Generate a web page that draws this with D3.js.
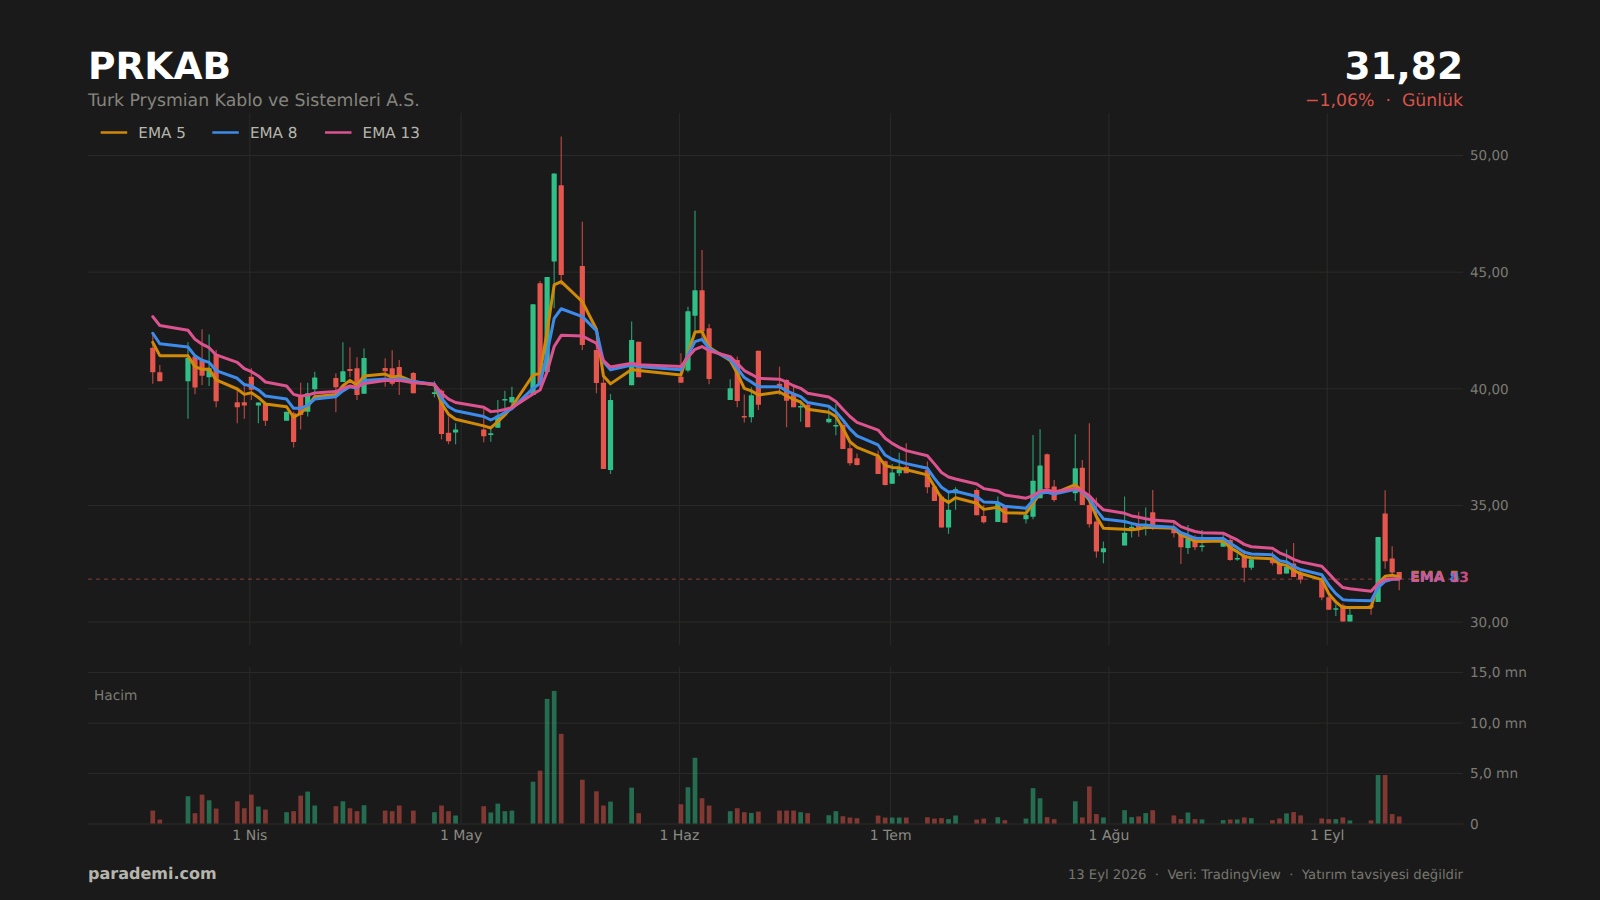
<!DOCTYPE html>
<html lang="tr"><head><meta charset="utf-8"><title>PRKAB</title>
<script src="https://cdn.jsdelivr.net/npm/d3@7"></script>
<style>
html,body{margin:0;padding:0;background:#1a1a1a;overflow:hidden}
svg{display:block}
text{font-family:"DejaVu Sans",sans-serif;text-rendering:geometricPrecision}
</style></head><body><svg id="c" width="1600" height="900"></svg>
<script>
const dates=["03-18","03-19","03-23","03-24","03-25","03-26","03-27","03-30","03-31","04-01","04-02","04-03","04-06","04-07","04-08","04-09","04-10","04-13","04-14","04-15","04-16","04-17","04-20","04-21","04-22","04-24","04-27","04-28","04-29","04-30","05-04","05-05","05-06","05-07","05-08","05-11","05-12","05-13","05-14","05-15","05-18","05-20","05-21","05-22","05-25","05-26","06-01","06-02","06-03","06-04","06-05","06-08","06-09","06-10","06-11","06-12","06-15","06-16","06-17","06-18","06-19","06-22","06-23","06-24","06-25","06-26","06-29","06-30","07-01","07-02","07-03","07-06","07-07","07-08","07-09","07-10","07-13","07-14","07-16","07-17","07-20","07-21","07-22","07-23","07-24","07-27","07-28","07-29","07-30","07-31","08-03","08-04","08-05","08-06","08-07","08-10","08-11","08-12","08-13","08-14","08-17","08-18","08-19","08-20","08-21","08-24","08-25","08-26","08-27","08-28","08-31","09-01","09-02","09-03","09-04","09-07","09-08","09-09","09-10","09-11"];
const opens=[41.74,40.69,40.3,41.36,41.21,40.47,41.47,39.4,39.4,40.49,39.26,39.36,38.61,38.93,39.66,39,39.96,40.44,40.27,40.83,40.86,39.77,40.87,40.86,40.91,40.66,39.76,39.9,38.1,38.11,38.23,38,38.31,39.49,39.39,39.71,44.5,40.7,45.44,48.7,45.24,41.64,40.24,36.5,40.13,41.99,40.49,40.76,43.11,44.2,42.57,39.5,41.21,38.81,38.76,41.61,40.2,40.36,39.79,39.19,39.29,38.54,38.36,38.43,37.43,37,37.07,36.87,35.91,36.36,36.64,36.5,35.79,35.36,34.03,35.5,35.64,34.53,34.27,34.93,34.39,34.49,35.29,37.17,35.79,35.5,36.59,35,34.29,32.97,33.26,34.03,34.14,34.04,34.69,34.07,33.76,33.16,33.57,33.2,33.21,33.5,32.67,32.86,32.31,32.69,32.5,32.06,32.49,32.06,31.77,31.04,30.51,30.7,30,30.7,30.84,34.63,32.7,32.13];
const highs=[42.29,41,41.97,41.43,42.53,42.31,41.64,39.93,40.1,40.86,39.4,39.43,39,39,40.24,40.24,40.71,40.64,41.97,41.76,41.33,41.71,41.29,41.63,41.21,40.7,40.31,39.95,38.79,38.5,39.14,38.36,39.5,39.9,40.07,43.6,44.6,44.77,49.21,50.79,47.14,42.57,40.5,39.76,42.86,41.99,41.5,43.5,47.61,45.93,42.76,40.39,41.36,39.73,40.04,41.61,40.93,40.39,40.07,39.5,39.4,39.14,39.33,38.5,37.79,37.21,37.33,36.9,36.76,37.24,37.64,36.86,35.85,35.45,35.53,35.76,35.7,35,35.36,35,34.86,38,38.24,37.21,36.07,38.03,36.93,38.5,35.31,33.43,35.36,34.14,34.71,34.89,35.64,34.29,33.86,34.14,33.7,33.93,33.71,33.57,32.93,33.07,32.71,33,32.69,33.09,33.37,32.2,31.9,31.2,30.73,30.78,30.56,30.78,33.63,35.63,33.23,32.13];
const lows=[40.2,40.3,38.69,39.74,40.14,40.1,39.19,38.5,38.7,39.5,38.5,38.39,38.61,37.46,38.23,38.79,39.64,38.97,40.27,40.47,39.5,39.77,40.07,40.11,39.71,39.79,39.61,37.81,37.6,37.6,37.69,37.71,38.31,39.07,39.21,39.71,40,40.6,43.43,44.43,41.64,39.79,36.54,36.33,40.13,40.47,40.24,40.69,42.36,42.07,40.17,39.5,39.19,38.53,38.53,39.07,39.71,38.33,39.19,38.57,38.33,38.5,37.99,37.4,36.69,36.69,36.33,35.83,35.91,36.24,36.36,35.5,35.17,34.03,33.76,34.79,34.56,34.21,34.27,34.24,34.21,34.39,35.29,35.64,35.14,35.17,35,34.03,32.74,32.5,33.26,33.61,33.64,33.69,33.93,33.6,32.47,32.9,33.07,33,33.21,32.61,32.61,31.69,32.21,32.41,32.03,32.06,31.91,31.63,30.91,30.51,30.24,30,30,30.29,30.84,32.27,31.91,31.34];
const closes=[40.69,40.3,41.3,40.03,40.54,40.86,39.44,39.19,39.26,39.94,39.39,38.61,38.99,37.7,38.86,39.79,40.46,40.04,40.73,40.74,39.71,41.3,40.73,40.19,40.36,39.79,39.83,38.04,37.73,38.23,37.94,38.07,38.83,39.54,39.63,43.6,40.21,44.77,49.21,44.86,41.86,40.23,36.54,39.5,42.07,40.47,40.24,43.3,44.2,42.43,40.4,40,39.46,38.76,39.7,39.29,40.07,39.47,39.19,39.24,38.33,38.69,38.43,37.4,36.79,36.71,36.33,35.86,36.39,36.53,36.36,35.76,35.17,34.03,34.79,35.67,34.56,34.26,35.07,34.24,34.57,36.04,36.69,35.71,35.21,36.57,35,34.17,33,33.14,33.81,34.07,34,34.14,34.14,33.79,33.19,33.57,33.19,33.26,33.57,32.64,32.73,32.31,32.67,32.5,32.03,32.34,31.91,31.8,31.03,30.51,30.57,30,30.29,30.6,33.63,32.59,32.1,31.82];
const volumes=[1.28,0.39,2.7,1.02,2.86,2.3,1.48,2.2,1.51,2.86,1.68,1.38,1.12,1.22,2.76,3.16,1.78,1.71,2.2,1.51,1.22,1.81,1.28,1.22,1.78,1.28,1.12,1.78,1.22,0.79,1.71,1.09,1.97,1.22,1.28,4.14,5.23,12.34,13.13,8.88,4.34,3.19,1.78,2.17,3.55,1.02,1.91,3.59,6.51,2.5,1.78,1.22,1.51,1.12,1.05,1.18,1.28,1.28,1.28,1.12,1.02,0.82,1.22,0.72,0.59,0.53,0.79,0.59,0.59,0.59,0.59,0.62,0.49,0.53,0.43,0.79,0.39,0.49,0.62,0.33,0.49,3.5,2.5,0.63,0.43,2.2,0.6,3.67,0.93,0.6,1.32,0.63,0.7,1.03,1.32,0.8,0.43,1.09,0.43,0.4,0.33,0.4,0.4,0.6,0.53,0.33,0.5,1,1.13,0.8,0.5,0.43,0.43,0.6,0.3,0.3,4.8,4.8,0.93,0.7];
const ema5=[41.97,41.4,41.39,40.93,40.81,40.83,40.36,39.97,39.74,39.81,39.61,39.33,39.21,38.76,38.93,39.21,39.64,39.74,40.11,40.34,40.13,40.53,40.61,40.47,40.53,40.29,40.14,39.36,38.89,38.67,38.39,38.3,38.57,38.86,39.21,40.57,40.64,42.43,44.43,44.57,43.71,42.53,40.53,40.19,40.81,40.76,40.57,41.5,42.41,42.43,41.76,41.19,40.64,40,39.89,39.71,39.84,39.67,39.53,39.41,39.1,38.97,38.79,38.29,37.71,37.47,37.1,36.69,36.61,36.59,36.51,36.29,35.79,35.29,35.11,35.31,35.07,34.81,34.9,34.67,34.64,35.07,35.5,35.57,35.5,35.87,35.57,35.21,34.5,34,33.96,33.94,33.97,34.04,34.03,34,33.71,33.6,33.44,33.43,33.46,33.17,33,32.79,32.74,32.69,32.47,32.41,32.2,32.06,31.8,31.2,30.84,30.6,30.6,30.6,31.63,31.94,31.99,31.91];
const ema8=[42.36,41.91,41.77,41.39,41.2,41.11,40.76,40.43,40.16,40.1,39.93,39.67,39.54,39.14,39.14,39.27,39.54,39.64,39.89,40.07,40,40.33,40.4,40.37,40.41,40.29,40.17,39.57,39.21,39.04,38.79,38.64,38.79,38.96,39.13,40,40.21,41.5,43,43.41,43.07,42.47,41.14,40.79,41,40.93,40.79,41.43,42,42.1,41.7,41.24,40.86,40.46,40.27,40.07,40.07,39.89,39.76,39.64,39.39,39.23,39,38.64,38.26,37.96,37.57,37.14,36.96,36.86,36.77,36.57,36.14,35.76,35.56,35.59,35.36,35.13,35.1,34.94,34.86,35.19,35.5,35.54,35.47,35.67,35.57,35.29,34.79,34.4,34.29,34.21,34.14,34.14,34.1,34.04,33.81,33.7,33.57,33.56,33.56,33.36,33.17,32.97,32.9,32.86,32.61,32.56,32.37,32.23,32.01,31.56,31.2,30.94,30.91,30.89,31.46,31.73,31.81,31.83];
const ema13=[43.07,42.69,42.49,42.1,41.89,41.74,41.43,41.11,40.84,40.71,40.53,40.27,40.1,39.74,39.66,39.71,39.8,39.86,40,40.1,40.04,40.21,40.33,40.33,40.34,40.24,40.17,39.79,39.54,39.39,39.19,39,39.03,39.09,39.17,39.76,39.93,40.71,41.79,42.27,42.24,41.93,41.19,40.91,41.07,41.01,40.93,41.33,41.67,41.79,41.61,41.36,41.07,40.76,40.6,40.43,40.39,40.26,40.11,40,39.79,39.63,39.43,39.1,38.79,38.54,38.21,37.86,37.64,37.47,37.33,37.11,36.76,36.39,36.2,36.11,35.9,35.7,35.6,35.43,35.29,35.4,35.59,35.64,35.57,35.71,35.6,35.39,35.07,34.79,34.64,34.53,34.47,34.41,34.36,34.29,34.07,33.96,33.86,33.81,33.79,33.64,33.5,33.31,33.21,33.14,32.95,32.83,32.67,32.56,32.37,32.06,31.73,31.46,31.41,31.3,31.63,31.81,31.84,31.83];
const priceTicks=[30,35,40,45,50];
const volumeTicks=[0,5,10,15];
const monthTicks=["2026-04-01","2026-05-01","2026-06-01","2026-07-01","2026-08-01","2026-09-01"];
const monthLabels=["1 Nis","1 May","1 Haz","1 Tem","1 Ağu","1 Eyl"];
const emaNames=["EMA 5","EMA 8","EMA 13"];
const emaColors=["#d08a08","#3d8bea","#dd5390"];
const emaSeries=[ema5,ema8,ema13];
const lastPrice=31.82;

const upColor="#2fbf87",downColor="#e5564c",bg="#1a1a1a",gridColor="#2a2a29";
const L=88,R=1463,pTop=113,pBot=645,vTop=667,vBot=823.5;
const svg=d3.select("#c");
svg.append("rect").attr("width",1600).attr("height",900).attr("fill",bg);

const x=d3.scaleUtc().domain([new Date("2026-03-09T02:15Z"),new Date("2026-09-20T08:24Z")]).range([L,R]);
const y=d3.scaleLinear().domain([40+(388.3-pBot)/23.33,40+(388.3-pTop)/23.33]).range([pBot,pTop]);
const yv=d3.scaleLinear().domain([0,15.5]).range([vBot,vTop]);
const num=d3.formatLocale({decimal:",",thousands:".",grouping:[3],currency:["",""],minus:"−"});
const f2=num.format(".2f"),f1=num.format(".1f");
const rows=dates.map((d,i)=>({t:new Date(`2026-${d}T07:00Z`),o:opens[i],h:highs[i],l:lows[i],c:closes[i],v:volumes[i],up:closes[i]>=opens[i]}));
const monthDates=monthTicks.map(d=>new Date(d+"T00:00Z"));

function style(g,size,color){
  g.select(".domain").remove();
  g.selectAll(".tick line").attr("stroke",gridColor).attr("stroke-width",1);
  g.selectAll(".tick text").attr("fill",color).attr("font-size",size).attr("font-family",'"DejaVu Sans",sans-serif');
}
// grids + axes
style(svg.append("g").attr("transform",`translate(0,${pBot})`).call(d3.axisBottom(x).tickValues(monthDates).tickSize(-(pBot-pTop)).tickFormat("")),13,"#777");
const pa=svg.append("g").attr("transform",`translate(${R},0)`).call(d3.axisRight(y).tickValues(priceTicks).tickSize(-(R-L)).tickPadding(7).tickFormat(f2));
style(pa,13.5,"#7c7c75");pa.selectAll(".tick text").attr("dy","0.36em");
const xa=svg.append("g").attr("transform",`translate(0,${vBot})`).call(d3.axisBottom(x).tickValues(monthDates).tickSize(-(vBot-vTop)).tickPadding(6.5).tickFormat((d,i)=>monthLabels[i]));
style(xa,14,"#8a8a82");
const va=svg.append("g").attr("transform",`translate(${R},0)`).call(d3.axisRight(yv).tickValues(volumeTicks).tickSize(-(R-L)).tickPadding(7).tickFormat(v=>v===0?"0":f1(v)+" mn"));
style(va,13.7,"#7c7c75");va.selectAll(".tick text").attr("dy","0.36em");

// volume
svg.append("g").selectAll("rect").data(rows).join("rect")
  .attr("x",d=>x(d.t)-2.35).attr("width",4.7)
  .attr("y",d=>yv(d.v)).attr("height",d=>yv(0)-yv(d.v))
  .attr("fill",d=>d.up?upColor:downColor).attr("opacity",.5);

// last price line
svg.append("line").attr("x1",L).attr("x2",R).attr("y1",y(lastPrice)).attr("y2",y(lastPrice))
  .attr("stroke",downColor).attr("stroke-opacity",.45).attr("stroke-width",1.2).attr("stroke-dasharray","4 4");

// candles
const cg=svg.append("g");
cg.selectAll("line").data(rows).join("line")
  .attr("x1",d=>x(d.t)).attr("x2",d=>x(d.t)).attr("y1",d=>y(d.h)).attr("y2",d=>y(d.l))
  .attr("stroke",d=>d.up?upColor:downColor).attr("stroke-width",1.2).attr("stroke-opacity",.75);
cg.selectAll("rect").data(rows).join("rect")
  .attr("x",d=>x(d.t)-2.6).attr("width",5.2)
  .attr("y",d=>y(Math.max(d.o,d.c))).attr("height",d=>Math.max(1.5,Math.abs(y(d.o)-y(d.c))))
  .attr("fill",d=>d.up?upColor:downColor).attr("rx",.5);

// EMA lines
const line=d3.line().x((v,i)=>x(rows[i].t)).y(v=>y(v));
emaSeries.forEach((s,i)=>{
  svg.append("path").attr("d",line(s)).attr("fill","none").attr("stroke",emaColors[i])
    .attr("stroke-width",3).attr("stroke-linejoin","round").attr("stroke-linecap","round");
  svg.append("text").attr("x",x(rows[rows.length-1].t)+11).attr("y",y(s[s.length-1])+3.5)
    .attr("fill",emaColors[i]).attr("font-size",14).attr("font-weight",700).attr("opacity",.9).text(emaNames[i]);
});

// legend
const legendX=[100.7,212.3,325];
emaNames.forEach((n,i)=>{
  svg.append("line").attr("x1",legendX[i]).attr("x2",legendX[i]+26.5).attr("y1",132.5).attr("y2",132.5)
    .attr("stroke",emaColors[i]).attr("stroke-width",2.5);
  svg.append("text").attr("x",legendX[i]+37.6).attr("y",138).attr("fill","#b5b5ad").attr("font-size",15.2).text(n);
});

// header + footer
const T=(tx,ty,s,c,size,w,a)=>svg.append("text").attr("x",tx).attr("y",ty).attr("fill",c).attr("font-size",size)
  .attr("font-weight",w||400).attr("text-anchor",a||"start").text(s);
T(L,78.5,"PRKAB","#ffffff",37.5,700);
T(L,106,"Turk Prysmian Kablo ve Sistemleri A.S.","#85857e",17.3);
T(R,78.5,f2(lastPrice),"#ffffff",37.5,700,"end");
T(R,106,"−1,06%\u00a0\u00a0·\u00a0\u00a0Günlük","#d9534a",17.3,400,"end");
T(94,700,"Hacim","#7c7c75",13.7);
T(L,879,"parademi.com","#b5b5ad",16,700);
T(R,878.5,"13 Eyl 2026\u00a0\u00a0·\u00a0\u00a0Veri: TradingView\u00a0\u00a0·\u00a0\u00a0Yatırım tavsiyesi değildir","#77776f",13.2,400,"end");
</script></body></html>
